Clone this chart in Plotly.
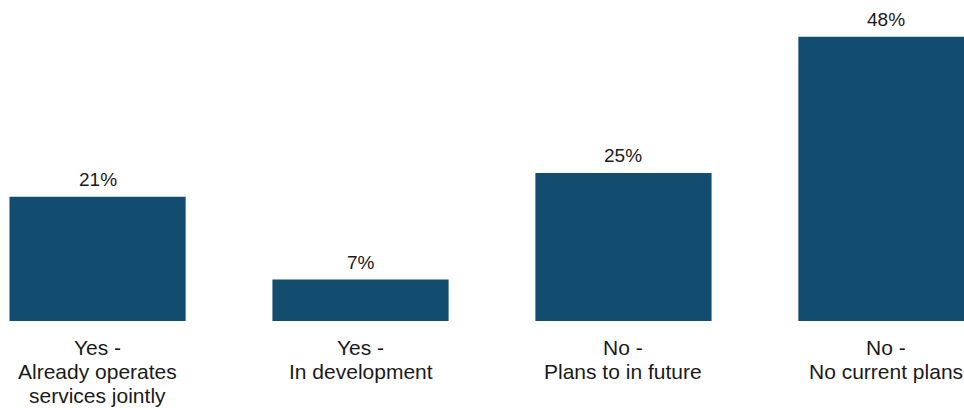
import plotly.graph_objects as go

categories = ["Yes -<br>Already operates<br>services jointly",
              "Yes -<br>In development",
              "No -<br>Plans to in future",
              "No -<br>No current plans"]
values = [21, 7, 25, 48]
labels = [f"{v}%" for v in values]

FONT = "Liberation Sans, Arial, sans-serif"
xpos = list(range(len(categories)))

fig = go.Figure(go.Bar(
    x=xpos, y=values,
    marker=dict(color="#124D70", line=dict(width=0)),
    width=0.67, hoverinfo="skip",
))

# value labels above bars
for i, (v, lab) in enumerate(zip(values, labels)):
    fig.add_annotation(x=xpos[i], y=v, xref="x", yref="y", text=lab,
                       showarrow=False, xanchor="center", yanchor="middle",
                       yshift=17, font=dict(size=19, color="#1a1a1a", family=FONT))

# category labels, one annotation per line for tight line spacing
for i, cat in enumerate(categories):
    for k, line in enumerate(cat.split("<br>")):
        fig.add_annotation(x=xpos[i], y=0, xref="x", yref="y",
                           text=line, showarrow=False,
                           xanchor="center", yanchor="middle",
                           yshift=-26 - 24 * k,
                           font=dict(size=21, color="#1a1a1a", family=FONT))

fig.update_layout(
    width=964, height=408,
    margin=dict(l=0, r=0, t=0, b=87),
    paper_bgcolor="white", plot_bgcolor="white",
    font=dict(family=FONT, size=19, color="#1a1a1a"),
    showlegend=False,
    xaxis=dict(range=[-0.371, 3.295], showticklabels=False, showgrid=False,
               zeroline=False, showline=False, ticks="", automargin=False),
    yaxis=dict(range=[0, 54.2], visible=False, showgrid=False, zeroline=False,
               automargin=False),
)
fig.write_html("out.html", config={"displayModeBar": False},
               post_script="document.body.style.margin='0';document.body.style.overflow='hidden';")
